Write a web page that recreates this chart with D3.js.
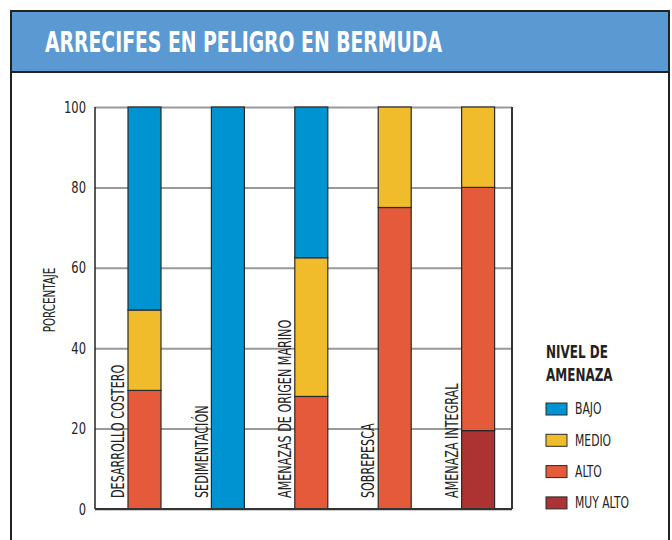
<!DOCTYPE html>
<html>
<head>
<meta charset="utf-8">
<script src="https://cdn.jsdelivr.net/npm/d3@7"></script>
<style>
  body { margin: 0; background: #fff; }
  text { font-family: "Liberation Sans Narrow", "DejaVu Sans Condensed", "Roboto", sans-serif; }
</style>
</head>
<body>
<div id="viz"></div>
<script>
const width = 672;
const height = 540;

// data
const categories = ["DESARROLLO COSTERO", "SEDIMENTACIÓN", "AMENAZAS DE ORIGEN MARINO", "SOBREPESCA", "AMENAZA INTEGRAL"];
const levels = ["MUY ALTO", "ALTO", "MEDIO", "BAJO"];
const muyAlto = [0, 0, 0, 0, 19.5];
const alto = [29.5, 0, 28, 75, 60.5];
const medio = [20, 0, 34.5, 25, 20];
const bajo = [50.5, 100, 37.5, 0, 0];
const yTicks = [0, 20, 40, 60, 80, 100];
const colors = { "BAJO": "#0093d1", "MEDIO": "#f0bc2c", "ALTO": "#e55a3a", "MUY ALTO": "#ad3232" };
const legendOrder = ["BAJO", "MEDIO", "ALTO", "MUY ALTO"];

const rows = categories.map((c, i) => ({
    cat: c, "MUY ALTO": muyAlto[i], "ALTO": alto[i], "MEDIO": medio[i], "BAJO": bajo[i]
}));

const svg = d3.select("#viz")
    .append("svg")
    .attr("width", width)
    .attr("height", height);

// frame + header
svg.append("rect")
    .attr("x", 11).attr("y", 11)
    .attr("width", 658).attr("height", 540)
    .attr("fill", "#fff")
    .attr("stroke", "#222").attr("stroke-width", 2);
svg.append("rect")
    .attr("x", 11).attr("y", 11)
    .attr("width", 658).attr("height", 61)
    .attr("fill", "#5b99d2")
    .attr("stroke", "#222").attr("stroke-width", 2);
svg.append("text")
    .attr("x", 45).attr("y", 52)
    .attr("fill", "#fff")
    .attr("font-size", 28)
    .attr("font-weight", "bold")
    .attr("textLength", 397)
    .attr("lengthAdjust", "spacingAndGlyphs")
    .text("ARRECIFES EN PELIGRO EN BERMUDA");

const margin = { top: 107, left: 95, right: 160, bottom: 31 };
const innerWidth = width - margin.left - margin.right;   // 417
const innerHeight = height - margin.top - margin.bottom; // 402

const g = svg.append("g")
    .attr("transform", `translate(${margin.left}, ${margin.top})`);

const xScale = d3.scaleBand()
    .domain(categories)
    .range([0, innerWidth]);

const yScale = d3.scaleLinear()
    .domain([0, 100])
    .range([innerHeight, 0]);

const barOffset = 33;
const barWidth = 33;

// grid
const yAxis = d3.axisLeft(yScale)
    .tickValues(yTicks)
    .tickSize(-innerWidth)
    .tickPadding(9)
    .tickFormat(d3.format("d"));

const yAxisG = g.append("g").call(yAxis);
yAxisG.select(".domain").remove();
yAxisG.selectAll(".tick line")
    .attr("stroke", "#999")
    .attr("stroke-width", 2);
yAxisG.selectAll(".tick text")
    .attr("x", null)
    .attr("transform", "translate(-9,0) scale(0.8,1)")
    .attr("font-size", 16)
    .attr("fill", "#222")
    .attr("font-family", "\"Liberation Sans Narrow\", \"DejaVu Sans Condensed\", sans-serif");

// stacked bars
const stack = d3.stack().keys(levels);
const series = stack(rows);

g.selectAll(".layer")
    .data(series)
    .enter()
    .append("g")
    .attr("class", "layer")
    .attr("fill", d => colors[d.key])
    .selectAll("rect")
    .data(d => d.filter(p => p[1] - p[0] > 0))
    .enter()
    .append("rect")
    .attr("x", d => xScale(d.data.cat) + barOffset)
    .attr("y", d => yScale(d[1]))
    .attr("width", barWidth)
    .attr("height", d => yScale(d[0]) - yScale(d[1]))
    .attr("stroke", "#2a2a2a")
    .attr("stroke-width", 1.2);

// axis lines
g.append("line")
    .attr("x1", 0).attr("x2", 0)
    .attr("y1", 0).attr("y2", innerHeight)
    .attr("stroke", "#222").attr("stroke-width", 1.5);
g.append("line")
    .attr("x1", innerWidth).attr("x2", innerWidth)
    .attr("y1", 0).attr("y2", innerHeight)
    .attr("stroke", "#333").attr("stroke-width", 2);
g.append("line")
    .attr("x1", 0).attr("x2", innerWidth)
    .attr("y1", innerHeight).attr("y2", innerHeight)
    .attr("stroke", "#333").attr("stroke-width", 2);

// category labels
g.selectAll(".cat-label")
    .data(categories)
    .enter()
    .append("text")
    .attr("class", "cat-label")
    .attr("transform", d => `translate(${xScale(d) + barOffset - 10}, ${innerHeight - 11}) rotate(-90) scale(0.73,1)`)
    .attr("dy", "0.36em")
    .attr("font-size", 17)
    .attr("fill", "#222")
    .text(d => d);

// y axis label
g.append("text")
    .attr("transform", `translate(-46, ${yScale(50) - 8}) rotate(-90) scale(0.72,1)`)
    .attr("text-anchor", "middle")
    .attr("dy", "0.36em")
    .attr("font-size", 16)
    .attr("fill", "#222")
    .text("PORCENTAJE");

// legend
const legend = svg.append("g")
    .attr("transform", "translate(546, 358)");
legend.append("text")
    .attr("transform", "scale(0.74,1)")
    .attr("font-size", 18)
    .attr("font-weight", "bold")
    .attr("fill", "#222")
    .text("NIVEL DE");
legend.append("text")
    .attr("transform", "translate(0,23) scale(0.74,1)")
    .attr("font-size", 18)
    .attr("font-weight", "bold")
    .attr("fill", "#222")
    .text("AMENAZA");

const legendSpacing = 31.3;
legend.selectAll(".sw")
    .data(legendOrder)
    .enter()
    .append("rect")
    .attr("class", "sw")
    .attr("x", 0)
    .attr("y", (d, i) => 45 + i * legendSpacing)
    .attr("width", 21)
    .attr("height", 12)
    .attr("fill", d => colors[d])
    .attr("stroke", "#2a2a2a")
    .attr("stroke-width", 1);
legend.selectAll(".lt")
    .data(legendOrder)
    .enter()
    .append("text")
    .attr("class", "lt")
    .attr("transform", (d, i) => `translate(29, ${51 + i * legendSpacing}) scale(0.8,1)`)
    .attr("dy", "0.36em")
    .attr("font-size", 15)
    .attr("fill", "#222")
    .text(d => d);
</script>
</body>
</html>
